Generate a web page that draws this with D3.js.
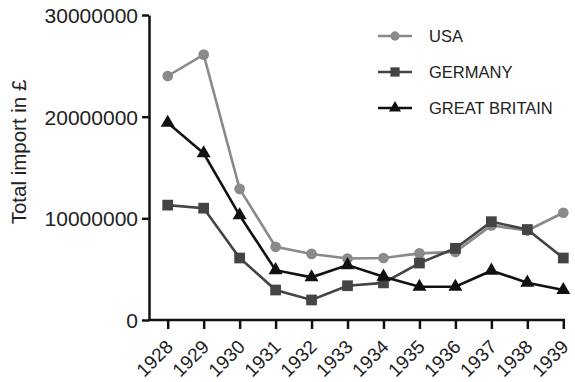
<!DOCTYPE html>
<html><head><meta charset="utf-8">
<script src="https://cdn.jsdelivr.net/npm/d3@7/dist/d3.min.js"></script>
<style>body{margin:0;background:#fff}text{font-family:Arial,"Liberation Sans",sans-serif}</style>
</head><body>
<svg id="c" width="575" height="382"></svg>
<script>
const years = ["1928","1929","1930","1931","1932","1933","1934","1935","1936","1937","1938","1939"];
const usa = [24000000,26100000,12900000,7200000,6500000,6050000,6100000,6550000,6700000,9300000,8800000,10550000];
const germany = [11300000,11000000,6100000,2950000,1970000,3370000,3650000,5600000,7050000,9670000,8900000,6100000];
const gb = [19400000,16400000,10300000,4900000,4200000,5400000,4260000,3270000,3270000,4850000,3670000,2950000];
const yTicks = [0,10000000,20000000,30000000];
const seriesNames = ["USA","GERMANY","GREAT BRITAIN"];

const svg = d3.select("#c");
const x = d3.scalePoint().domain(years).range([167.7,563.3]);
const y = d3.scaleLinear().domain([0,30000000]).range([320,15]);

const series = [
  {name:seriesNames[0], values:usa, color:"#8a8a8a", sym:d3.symbolCircle, size:90},
  {name:seriesNames[1], values:germany, color:"#444", sym:d3.symbolSquare, size:115},
  {name:seriesNames[2], values:gb, color:"#111", sym:d3.symbolTriangle, size:85}
];

// axes
const yAxis = svg.append("g").attr("transform","translate(149,0)")
  .call(d3.axisLeft(y).tickValues(yTicks).tickFormat(d3.format("d")).tickSize(7).tickSizeOuter(0));
yAxis.select(".domain").attr("stroke","#111").attr("stroke-width",2.5);
yAxis.selectAll(".tick line").attr("stroke","#111").attr("stroke-width",2.5);
yAxis.selectAll(".tick text").attr("font-size",21).attr("fill","#222").attr("x",-11).attr("dy","0.36em");

const xAxis = svg.append("g").attr("transform","translate(0,320)")
  .call(d3.axisBottom(x).tickSize(9).tickSizeOuter(0));
xAxis.select(".domain").attr("d","M148,0H565").attr("stroke","#111").attr("stroke-width",2.5);
xAxis.selectAll(".tick line").attr("stroke","#111").attr("stroke-width",2.5);
xAxis.selectAll(".tick text").attr("font-size",19).attr("fill","#222")
  .attr("text-anchor","end").attr("dy",0).attr("y",0)
  .attr("transform","translate(6,28) rotate(-45)");

svg.append("text").attr("transform","translate(26,152) rotate(-90)")
  .attr("text-anchor","middle").attr("font-size",20.5).attr("fill","#222")
  .text("Total import in £");

// lines
const line = d3.line().x((d,i)=>x(years[i])).y(d=>y(d));
series.forEach(s=>{
  svg.append("path").datum(s.values).attr("d",line)
    .attr("fill","none").attr("stroke",s.color).attr("stroke-width",2.6);
  svg.selectAll(null).data(s.values).enter().append("path")
    .attr("d",d3.symbol().type(s.sym).size(s.size))
    .attr("transform",(d,i)=>`translate(${x(years[i])},${y(d)})`)
    .attr("fill",s.color);
});

// legend
const lg = svg.append("g");
series.forEach((s,i)=>{
  const ly = 36 + i*36;
  lg.append("line").attr("x1",378).attr("x2",412).attr("y1",ly).attr("y2",ly)
    .attr("stroke",s.color).attr("stroke-width",2.6);
  lg.append("path").attr("d",d3.symbol().type(s.sym).size(s.size*0.75))
    .attr("transform",`translate(395,${ly})`).attr("fill",s.color);
  lg.append("text").attr("x",429).attr("y",ly+6).attr("font-size",16.5)
    .attr("fill","#222").text(s.name);
});
</script>
</body></html>
